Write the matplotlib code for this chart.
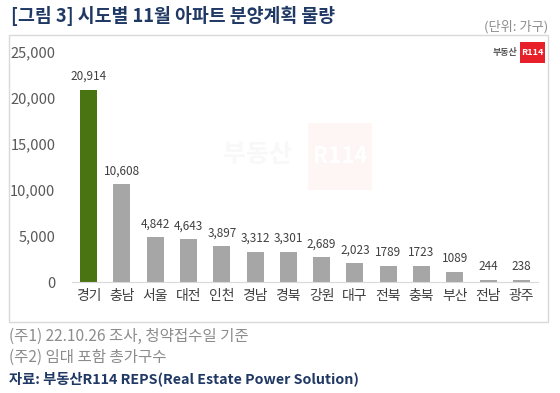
import matplotlib
matplotlib.use('Agg')
import matplotlib.pyplot as plt
from matplotlib.patches import Rectangle

plt.rcParams['font.family'] = ['Noto Sans CJK KR', 'DejaVu Sans']

# data
regions = ['경기', '충남', '서울', '대전', '인천', '경남', '경북',
           '강원', '대구', '전북', '충북', '부산', '전남', '광주']
units = [20914, 10608, 4842, 4643, 3897, 3312, 3301,
         2689, 2023, 1789, 1723, 1089, 244, 238]
value_labels = ['20,914', '10,608', '4,842', '4,643', '3,897', '3,312', '3,301',
                '2,689', '2,023', '1789', '1723', '1089', '244', '238']
yticks = [0, 5000, 10000, 15000, 20000, 25000]

W, H = 560, 393
fig = plt.figure(figsize=(W / 100, H / 100), dpi=100)
fig.patch.set_facecolor('white')


def fx(px):
    return px / W


def fy(py):
    return 1 - py / H


# chart frame
fig.patches.append(Rectangle((fx(9), fy(322)), fx(548) - fx(9), fy(35) - fy(322),
                             transform=fig.transFigure, fill=False,
                             edgecolor='#d9d9d9', linewidth=1.0))

# faint watermark
fig.patches.append(Rectangle((fx(308), fy(190)), fx(372) - fx(308), fy(123) - fy(190),
                             transform=fig.transFigure, facecolor='#fef5f5',
                             edgecolor='none', zorder=0))
fig.text(fx(340), fy(157), 'R114', ha='center', va='center', color='white',
         fontsize=16, fontweight='bold')
fig.text(fx(258), fy(155), '부동산', ha='center', va='center', color='#f8f8f8',
         fontsize=18, fontweight='bold')

ax = fig.add_axes([fx(72), fy(282), fx(538) - fx(72), fy(52) - fy(282)])
ax.patch.set_alpha(0)

colors = ['#4a7312'] + ['#a6a6a6'] * (len(units) - 1)
x = range(len(regions))
bars = ax.bar(x, units, width=0.51, color=colors, zorder=2)

for b, lab in zip(bars, value_labels):
    ax.annotate(lab, (b.get_x() + b.get_width() / 2, b.get_height()),
                xytext=(0, 5), textcoords='offset points', ha='center',
                va='bottom', fontsize=8.5, color='#404040')

ax.set_xlim(-0.5, len(regions) - 0.5)
ax.set_ylim(0, 25000)
ax.set_yticks(yticks)
ax.set_yticklabels([f'{v:,}' for v in yticks], fontsize=10.5, color='#595959')
ax.set_xticks(list(x))
ax.set_xticklabels(regions, fontsize=10, color='#404040')
ax.tick_params(axis='both', length=0)
ax.tick_params(axis='y', pad=12)
ax.tick_params(axis='x', pad=5)
for s in ['top', 'right', 'left']:
    ax.spines[s].set_visible(False)
ax.spines['bottom'].set_color('#d9d9d9')

# logo top right
fig.patches.append(Rectangle((fx(520), fy(63)), fx(545) - fx(520), fy(42) - fy(63),
                             transform=fig.transFigure, facecolor='#e8202a',
                             edgecolor='none'))
fig.text(fx(532.5), fy(52.5), 'R114', ha='center', va='center', color='white',
         fontsize=6.5, fontweight='bold')
fig.text(fx(517), fy(52.5), '부동산', ha='right', va='center', color='#595959',
         fontsize=6.5, fontweight='bold')

# titles and notes
fig.text(fx(11), fy(16), '[그림 3] 시도별 11월 아파트 분양계획 물량', ha='left',
         va='center', fontsize=13.2, fontweight='bold', color='#1f3864')
fig.text(fx(548), fy(27), '(단위: 가구)', ha='right', va='center',
         fontsize=9.5, color='#8c8c8c')
fig.text(fx(9), fy(336), '(주1) 22.10.26 조사, 청약접수일 기준', ha='left',
         va='center', fontsize=11.2, color='#8c8c8c')
fig.text(fx(9), fy(357), '(주2) 임대 포함 총가구수', ha='left',
         va='center', fontsize=11.2, color='#8c8c8c')
fig.text(fx(9), fy(379), '자료: 부동산R114 REPS(Real Estate Power Solution)',
         ha='left', va='center', fontsize=10.3, fontweight='bold', color='#1f3864')

fig.savefig('out.png', dpi=100)
